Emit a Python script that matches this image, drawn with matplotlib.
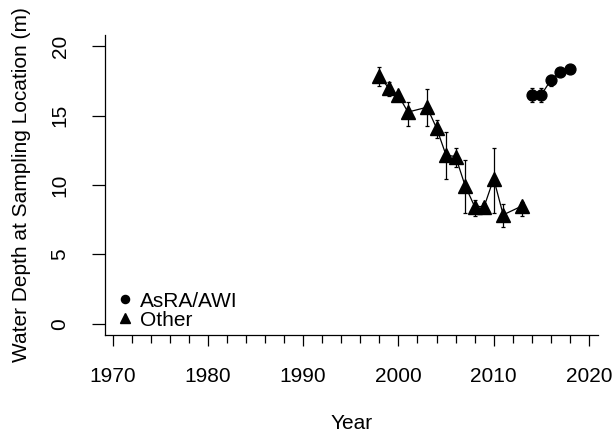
import matplotlib
matplotlib.use("Agg")
import matplotlib.pyplot as plt
from matplotlib.ticker import MultipleLocator

plt.rcParams['font.family'] = ['Liberation Sans', 'DejaVu Sans']

# AsRA/AWI samples
awi_year = [2014, 2015, 2016, 2017, 2018]
awi_depth = [16.5, 16.5, 17.55, 18.15, 18.35]
awi_lo = [16.0, 16.0, 17.15, 17.9, 18.25]
awi_hi = [17.0, 17.0, 17.9, 18.4, 18.45]

# other sources
oth_year = [1998, 1999, 2000, 2001, 2003, 2004, 2005, 2006, 2007, 2008, 2009, 2010, 2011, 2013]
oth_depth = [17.85, 16.95, 16.45, 15.25, 15.6, 14.1, 12.15, 12.05, 9.95, 8.45, 8.45, 10.45, 7.85, 8.5]
oth_lo = [17.1, 16.4, 16.2, 14.25, 14.25, 13.4, 10.4, 11.3, 8.0, 7.8, 8.2, 8.0, 7.0, 7.8]
oth_hi = [18.5, 17.4, 16.7, 16.0, 16.9, 14.7, 13.8, 12.7, 11.8, 8.9, 8.7, 12.7, 8.6, 8.8]

xticks = [1970, 1980, 1990, 2000, 2010, 2020]
yticks = [0, 5, 10, 15, 20]

fig = plt.figure(figsize=(6.14, 4.37), dpi=100)
ax = fig.add_axes([105/614, 1-335/437, 493/614, 300/437])

def errs(v, lo, hi):
    return [[a - b for a, b in zip(v, lo)], [c - a for a, c in zip(v, hi)]]

ax.errorbar(oth_year, oth_depth, yerr=errs(oth_depth, oth_lo, oth_hi), fmt='none',
            ecolor='black', elinewidth=0.9, capsize=1.2, capthick=0.9)
ax.errorbar(awi_year, awi_depth, yerr=errs(awi_depth, awi_lo, awi_hi), fmt='none',
            ecolor='black', elinewidth=0.9, capsize=1.2, capthick=0.9)
ax.plot(oth_year, oth_depth, color='black', lw=0.9)
ax.plot(awi_year, awi_depth, color='black', lw=0.9)
ax.plot(oth_year, oth_depth, ls='none', marker='^', ms=10, color='black', label='Other')
ax.plot(awi_year, awi_depth, ls='none', marker='o', ms=7.8, color='black', label='AsRA/AWI')

ax.set_xlim(1969.2, 2020.95)
ax.set_ylim(-0.8, 20.8)
ax.set_xticks(xticks)
ax.set_xticklabels([str(t) for t in xticks])
ax.xaxis.set_minor_locator(MultipleLocator(2))
ax.set_yticks(yticks)
ax.set_yticklabels([str(t) for t in yticks], rotation=90, va='center')

for s in ['top', 'right']:
    ax.spines[s].set_visible(False)
ax.spines['left'].set_linewidth(0.9)
ax.spines['bottom'].set_linewidth(0.9)

ax.tick_params(axis='x', which='major', direction='out', length=8, width=0.9, pad=15, labelsize=15)
ax.tick_params(axis='x', which='minor', direction='out', length=5.8, width=0.9)
ax.tick_params(axis='y', which='major', direction='out', length=9.5, width=0.9, pad=16, labelsize=15)

ax.set_xlabel('Year', fontsize=15, labelpad=20)
ax.set_ylabel('Water Depth at Sampling Location (m)', fontsize=15, labelpad=14)

h, l = ax.get_legend_handles_labels()
ax.legend(h[::-1], l[::-1], loc='lower left', frameon=False, fontsize=15,
          handletextpad=0.2, handlelength=1.1, labelspacing=0.0, markerscale=0.75,
          borderaxespad=0.0, bbox_to_anchor=(0.0, -0.01))

fig.savefig('out.png', dpi=100)
